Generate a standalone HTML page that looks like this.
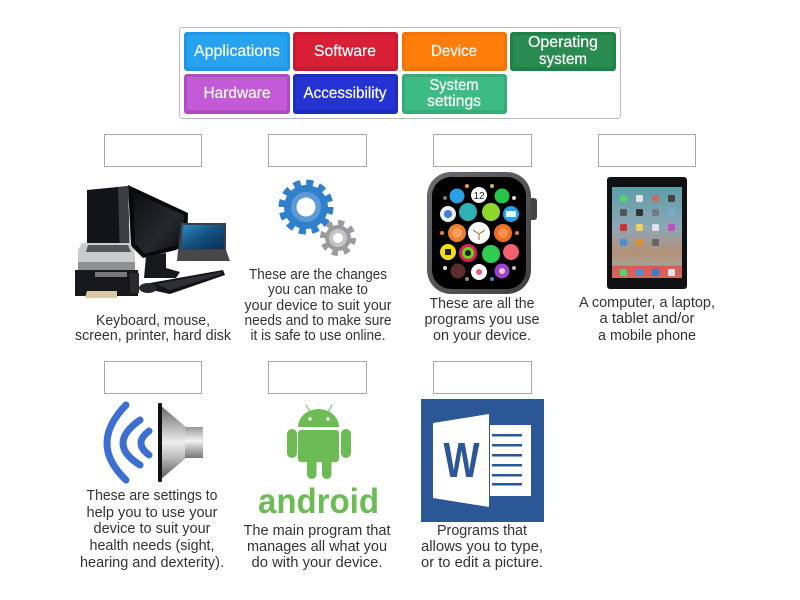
<!DOCTYPE html>
<html><head><meta charset="utf-8"><style>
html,body{margin:0;padding:0;background:#fff;width:800px;height:600px;overflow:hidden}
svg{display:block}
text{font-family:"Liberation Sans",sans-serif}
.t{font-size:14.6px;fill:#333;text-anchor:middle}
.b{font-size:16px;fill:#fff;text-anchor:middle;stroke:#fff;stroke-width:.2}
.e{fill:#fff;stroke:#aaa;stroke-width:1}
</style></head><body>
<svg width="800" height="600" viewBox="0 0 800 600" xmlns="http://www.w3.org/2000/svg">
<defs>
<linearGradient id="spk" x1="0" y1="0" x2="0" y2="1"><stop offset="0" stop-color="#666"/><stop offset=".25" stop-color="#aaa"/><stop offset=".5" stop-color="#eee"/><stop offset=".7" stop-color="#bbb"/><stop offset="1" stop-color="#555"/></linearGradient>
<linearGradient id="neck" x1="0" y1="0" x2="0" y2="1"><stop offset="0" stop-color="#999"/><stop offset=".45" stop-color="#f4f4f4"/><stop offset=".75" stop-color="#aaa"/><stop offset="1" stop-color="#777"/></linearGradient>
<linearGradient id="wall" x1="0" y1="0" x2="0" y2="1"><stop offset="0" stop-color="#5b9fa8"/><stop offset=".45" stop-color="#8ea6b6"/><stop offset=".72" stop-color="#b39078"/><stop offset=".86" stop-color="#a9a090"/><stop offset=".87" stop-color="#d05e58"/><stop offset="1" stop-color="#cf6a5e"/></linearGradient>
<linearGradient id="lap" x1="0" y1="0" x2="1" y2="1"><stop offset="0" stop-color="#2b8cc4"/><stop offset=".5" stop-color="#14507f"/><stop offset="1" stop-color="#0c2f55"/></linearGradient>
<linearGradient id="mon" x1="0" y1="0" x2="1" y2="1"><stop offset="0" stop-color="#0d0e10"/><stop offset=".6" stop-color="#25282d"/><stop offset="1" stop-color="#0d0e10"/></linearGradient>
<linearGradient id="bez" x1="0" y1="0" x2="1" y2="1"><stop offset="0" stop-color="#6a6b6e"/><stop offset="1" stop-color="#3e3f42"/></linearGradient>
</defs>
<rect width="800" height="600" fill="#fff"/>
<rect x="179.5" y="27.5" width="441" height="91" rx="3" fill="#fff" stroke="#bbb"/>

<rect x="184" y="32" width="106" height="39" rx="3" fill="#1f96e6"/><rect x="187" y="35" width="100" height="32" fill="#26a2ee"/>
<rect x="293" y="32" width="105" height="39" rx="3" fill="#c81a30"/><rect x="296" y="35" width="99" height="32" fill="#d81f36"/>
<rect x="402" y="32" width="105" height="39" rx="3" fill="#f57306"/><rect x="405" y="35" width="99" height="32" fill="#fd7c0a"/>
<rect x="510" y="32" width="106" height="39" rx="3" fill="#1f8045"/><rect x="513" y="35" width="100" height="32" fill="#2a8b50"/>
<rect x="184" y="74" width="106" height="40" rx="3" fill="#ae4cc2"/><rect x="187" y="77" width="100" height="33" fill="#c45ad8"/>
<rect x="293" y="74" width="105" height="40" rx="3" fill="#1d2dc0"/><rect x="296" y="77" width="99" height="33" fill="#2433d2"/>
<rect x="402" y="74" width="105" height="40" rx="3" fill="#36ac78"/><rect x="405" y="77" width="99" height="33" fill="#3dbb84"/>

<text class="b" x="237" y="56" textLength="86" lengthAdjust="spacingAndGlyphs">Applications</text>
<text class="b" x="345" y="56" textLength="62" lengthAdjust="spacingAndGlyphs">Software</text>
<text class="b" x="454" y="56" textLength="46" lengthAdjust="spacingAndGlyphs">Device</text>
<text class="b" x="563" y="47" textLength="70" lengthAdjust="spacingAndGlyphs">Operating</text>
<text class="b" x="563" y="64" textLength="48" lengthAdjust="spacingAndGlyphs">system</text>
<text class="b" x="237" y="98" textLength="67" lengthAdjust="spacingAndGlyphs">Hardware</text>
<text class="b" x="345" y="98" textLength="83" lengthAdjust="spacingAndGlyphs">Accessibility</text>
<text class="b" x="454" y="90" textLength="49" lengthAdjust="spacingAndGlyphs">System</text>
<text class="b" x="454" y="106" textLength="54" lengthAdjust="spacingAndGlyphs">settings</text>

<rect class="e" x="104.5" y="134.5" width="97" height="32"/>
<rect class="e" x="268.5" y="134.5" width="98" height="32"/>
<rect class="e" x="433.5" y="134.5" width="98" height="32"/>
<rect class="e" x="598.5" y="134.5" width="97" height="32"/>
<rect class="e" x="104.5" y="361.5" width="97" height="32"/>
<rect class="e" x="268.5" y="361.5" width="98" height="32"/>
<rect class="e" x="433.5" y="361.5" width="98" height="32"/>

<!-- computer -->
<polygon points="87,190 128,186 130,262 87,250" fill="#131417"/>
<polygon points="118,187 128,186 130,262 120,258" fill="#3c3e43"/>
<polygon points="128,185 188,213 187,244 176,250 143,258 131,246" fill="#08090b"/>
<polygon points="133,192 184,215 183,243 145,254 135,243" fill="url(#mon)"/>
<polygon points="146,256 166,253 166,268 180,272 176,278 144,278" fill="#17181b"/>
<polygon points="181,223 226,223 226,251 178,251" fill="#3c4048"/>
<polygon points="183,225 224,225 224,249 181,249" fill="url(#lap)"/>
<polygon points="178,250 226,250 230,261 177,261" fill="#4a4748"/>
<polygon points="82,243 130,243 135,252 135,266 78,266 78,250" fill="#c9cbcc"/>
<polygon points="88,245 128,245 131,252 86,252" fill="#55575a"/>
<rect x="78" y="262" width="57" height="8" fill="#8e9092"/>
<rect x="75" y="270" width="63" height="26" fill="#17181b"/>
<rect x="95" y="272" width="32" height="5" fill="#777"/>
<polygon points="87,291 117,291 117,298 85,298" fill="#d9c9a6"/>
<rect x="130" y="273" width="9" height="20" fill="#2a2a2d"/>
<polygon points="150,283 223,270 225,275 170,294 156,291" fill="#121316"/>
<polygon points="156,284 221,272 222,274 170,290" fill="#2e3035"/>
<ellipse cx="148" cy="288" rx="9" ry="5" fill="#26272a"/>

<!-- gears -->
<circle cx="306" cy="207" r="24" fill="none" stroke="#2f7fcb" stroke-width="7" stroke-dasharray="7 5.57"/>
<circle cx="306" cy="207" r="22" fill="#2f7fcb"/>
<circle cx="306" cy="207" r="15" fill="#5e9bd6"/><circle cx="306" cy="207" r="9.5" fill="#fff"/>
<circle cx="338" cy="238" r="15" fill="none" stroke="#9b9b9d" stroke-width="6" stroke-dasharray="6 5.78"/>
<circle cx="338" cy="238" r="13" fill="#9b9b9d"/>
<circle cx="338" cy="238" r="9" fill="#c4c4c6"/><circle cx="338" cy="238" r="5" fill="#fff"/>

<!-- watch -->
<rect x="529" y="198" width="8" height="22" rx="3" fill="#444"/>
<rect x="427" y="172" width="104" height="122" rx="24" fill="url(#bez)"/>
<rect x="432" y="177" width="94" height="112" rx="19" fill="#000"/>
<g>
<circle cx="467" cy="186" r="2" fill="#f09040"/><circle cx="492" cy="186" r="2" fill="#d0b060"/><circle cx="445" cy="198" r="2" fill="#777"/><circle cx="514" cy="198" r="2" fill="#ddd"/><circle cx="442" cy="233" r="2" fill="#f08030"/><circle cx="517" cy="233" r="2" fill="#f08030"/><circle cx="445" cy="268" r="2" fill="#ddd"/><circle cx="514" cy="268" r="2" fill="#bbb"/><circle cx="467" cy="279" r="2" fill="#888"/><circle cx="492" cy="279" r="2" fill="#4a80e0"/>
<circle cx="457" cy="196" r="7.5" fill="#2a9fe8"/><circle cx="479" cy="195" r="8" fill="#fff"/>
<text x="479" y="199" font-size="10" fill="#222" text-anchor="middle">12</text>
<circle cx="502" cy="196" r="7.5" fill="#27c44a"/><circle cx="448" cy="214" r="8" fill="#e8f0f5"/><circle cx="448" cy="214" r="4" fill="#3a7fd8"/>
<circle cx="468" cy="212" r="9" fill="#2fb0b5"/><circle cx="491" cy="212" r="9" fill="#8ed62c"/>
<circle cx="511" cy="214" r="8" fill="#2a9fe8"/><rect x="506" y="211" width="10" height="6" fill="#dff"/>
<circle cx="457" cy="233" r="9" fill="#ef7f30"/><circle cx="457" cy="233" r="5" fill="#f7a060"/>
<circle cx="479" cy="233" r="11" fill="#fff"/><path d="M479 234 L473 230 M479 234 L485 230 M479 234 L479 240" stroke="#a06030" stroke-width="1"/>
<circle cx="503" cy="233" r="9" fill="#ef6f20"/><circle cx="503" cy="233" r="5" fill="#f79050"/>
<circle cx="448" cy="252" r="8" fill="#f0e010"/><rect x="445" y="249" width="6" height="6" fill="#222"/>
<circle cx="468" cy="253" r="9" fill="#d81f5a"/><circle cx="468" cy="253" r="6" fill="#70d020"/><circle cx="468" cy="253" r="3" fill="#222"/>
<circle cx="491" cy="254" r="9" fill="#2ecc50"/><circle cx="511" cy="252" r="8" fill="#f06070"/><circle cx="458" cy="271" r="7.5" fill="#5a2c2c"/>
<circle cx="479" cy="272" r="8" fill="#fff"/><circle cx="479" cy="272" r="3" fill="#e85a80"/><circle cx="502" cy="271" r="7.5" fill="#a040d0"/><circle cx="502" cy="271" r="3" fill="#ecc"/>
</g>

<!-- tablet -->
<rect x="607" y="177" width="80" height="112" rx="3" fill="#111114"/>
<rect x="612" y="187" width="70" height="91" fill="url(#wall)"/>
<g fill="#e0e4ea">
<rect x="620" y="195" width="7" height="7" rx="1.5" fill="#5ad070"/><rect x="636" y="195" width="7" height="7" rx="1.5"/><rect x="652" y="195" width="7" height="7" rx="1.5" fill="#c07060"/><rect x="668" y="195" width="7" height="7" rx="1.5" fill="#444"/>
<rect x="620" y="209" width="7" height="7" rx="1.5" fill="#555"/><rect x="636" y="209" width="7" height="7" rx="1.5" fill="#333"/><rect x="652" y="209" width="7" height="7" rx="1.5" fill="#778"/><rect x="668" y="209" width="7" height="7" rx="1.5" fill="#7ac"/>
<rect x="620" y="224" width="7" height="7" rx="1.5" fill="#d03030"/><rect x="636" y="224" width="7" height="7" rx="1.5" fill="#f0d060"/><rect x="652" y="224" width="7" height="7" rx="1.5"/><rect x="668" y="224" width="7" height="7" rx="1.5" fill="#c050c0"/>
<rect x="620" y="239" width="7" height="7" rx="1.5" fill="#4a90d0"/><rect x="636" y="239" width="7" height="7" rx="1.5" fill="#e09030"/><rect x="652" y="239" width="7" height="7" rx="1.5" fill="#666"/>
<rect x="620" y="269" width="7" height="7" rx="1.5" fill="#5ad070"/><rect x="636" y="269" width="7" height="7" rx="1.5" fill="#4a90d0"/><rect x="652" y="269" width="7" height="7" rx="1.5" fill="#3080d0"/><rect x="668" y="269" width="7" height="7" rx="1.5"/>
</g>

<!-- speaker -->
<g fill="none" stroke="#3d6fd0" stroke-linecap="round" stroke-width="7">
<path d="M126 405 Q88 444 126 480"/>
<path d="M140 420 Q106 444 140 465"/>
<path d="M149 431 Q133 443 149 455"/>
</g>
<polygon points="160,405 186,427 186,458 160,480" fill="url(#spk)"/>
<rect x="185" y="427" width="18" height="31" fill="url(#neck)"/>
<rect x="158" y="403" width="4" height="79" rx="1" fill="#111"/>

<!-- android -->
<g fill="#6cbb54">
<path d="M298 427 a20.500 18 0 0 1 41 0 z"/>
<rect x="298" y="430" width="41" height="32" rx="3"/>
<rect x="287" y="429" width="10" height="29" rx="5"/>
<rect x="341" y="429" width="10" height="29" rx="5"/>
<rect x="307" y="455" width="9.500" height="24" rx="4.700"/>
<rect x="322" y="455" width="9.500" height="24" rx="4.700"/>
</g>
<line x1="306" y1="405" x2="310" y2="412" stroke="#6cbb54"/><line x1="332" y1="405" x2="328" y2="412" stroke="#6cbb54"/>
<circle cx="310" cy="419" r="1.700" fill="#fff"/><circle cx="328" cy="419" r="1.700" fill="#fff"/>
<text x="258" y="513" font-size="35" font-weight="700" fill="#6cbb54" textLength="121" lengthAdjust="spacingAndGlyphs">android</text>

<!-- word -->
<rect x="421" y="399" width="123" height="123" fill="#2b5797"/>
<polygon points="489,414 489,507 433,498 433,423" fill="#fff"/>
<rect x="490" y="425" width="41" height="71" fill="#fff"/>
<g fill="#2b5797"><rect x="492" y="434" width="30" height="2.500"/><rect x="492" y="444" width="30" height="2.500"/><rect x="492" y="454" width="30" height="2.500"/><rect x="492" y="464" width="30" height="2.500"/><rect x="492" y="474" width="30" height="2.500"/><rect x="492" y="483" width="30" height="2.500"/></g>
<text x="461.500" y="477" font-size="49" font-weight="700" fill="#2b5797" text-anchor="middle" textLength="36" lengthAdjust="spacingAndGlyphs">W</text>

<text class="t" x="153" y="325" textLength="114" lengthAdjust="spacingAndGlyphs">Keyboard, mouse,</text>
<text class="t" x="153" y="340" textLength="156" lengthAdjust="spacingAndGlyphs">screen, printer, hard disk</text>

<text class="t" x="318" y="279" textLength="138" lengthAdjust="spacingAndGlyphs">These are the changes</text>
<text class="t" x="318" y="294" textLength="100" lengthAdjust="spacingAndGlyphs">you can make to</text>
<text class="t" x="318" y="310" textLength="147" lengthAdjust="spacingAndGlyphs">your device to suit your</text>
<text class="t" x="318" y="325" textLength="147" lengthAdjust="spacingAndGlyphs">needs and to make sure</text>
<text class="t" x="318" y="340" textLength="135" lengthAdjust="spacingAndGlyphs">it is safe to use online.</text>

<text class="t" x="482" y="308" textLength="105" lengthAdjust="spacingAndGlyphs">These are all the</text>
<text class="t" x="482" y="324" textLength="115" lengthAdjust="spacingAndGlyphs">programs you use</text>
<text class="t" x="482" y="340" textLength="98" lengthAdjust="spacingAndGlyphs">on your device.</text>

<text class="t" x="647" y="307" textLength="136" lengthAdjust="spacingAndGlyphs">A computer, a laptop,</text>
<text class="t" x="647" y="323" textLength="95" lengthAdjust="spacingAndGlyphs">a tablet and/or</text>
<text class="t" x="647" y="340" textLength="98" lengthAdjust="spacingAndGlyphs">a mobile phone</text>

<text class="t" x="152" y="500" textLength="131" lengthAdjust="spacingAndGlyphs">These are settings to</text>
<text class="t" x="152" y="517" textLength="131" lengthAdjust="spacingAndGlyphs">help you to use your</text>
<text class="t" x="152" y="533" textLength="117" lengthAdjust="spacingAndGlyphs">device to suit your</text>
<text class="t" x="152" y="550" textLength="125" lengthAdjust="spacingAndGlyphs">health needs (sight,</text>
<text class="t" x="152" y="567" textLength="144" lengthAdjust="spacingAndGlyphs">hearing and dexterity).</text>

<text class="t" x="317" y="535" textLength="147" lengthAdjust="spacingAndGlyphs">The main program that</text>
<text class="t" x="317" y="551" textLength="140" lengthAdjust="spacingAndGlyphs">manages all what you</text>
<text class="t" x="317" y="567" textLength="131" lengthAdjust="spacingAndGlyphs">do with your device.</text>

<text class="t" x="482" y="535" textLength="90" lengthAdjust="spacingAndGlyphs">Programs that</text>
<text class="t" x="482" y="551" textLength="122" lengthAdjust="spacingAndGlyphs">allows you to type,</text>
<text class="t" x="482" y="567" textLength="122" lengthAdjust="spacingAndGlyphs">or to edit a picture.</text>
</svg>
</body></html>
